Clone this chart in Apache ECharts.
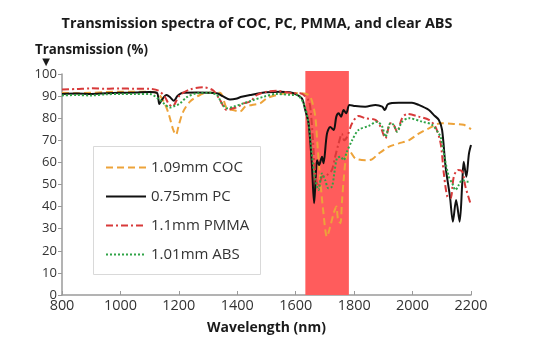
<!DOCTYPE html>
<html><head><meta charset="utf-8">
<script src="https://cdn.jsdelivr.net/npm/echarts@6/dist/echarts.min.js"></script>
<style>html,body{margin:0;padding:0;background:#fff}#c{width:534px;height:354px}</style>
</head><body><div id="c"></div>
<script>
// ---- data ----
const titleText = 'Transmission spectra of COC, PC, PMMA, and clear ABS';
const yAxisTitle = 'Transmission (%)';
const xAxisTitle = 'Wavelength (nm)';
const seriesNames = ['1.09mm COC', '0.75mm PC', '1.1mm PMMA', '1.01mm ABS'];
const bandRange = [1633, 1782];
const bandTop = 101.4;

const cocX = [800,850,900,950,1000,1050,1100,1130,1150,1165,1180,1190,1200,1215,1238,1272,1300,1340,1364,1386,1409,1427,1450,1478,1501,1535,1570,1615,1644,1655,1667,1675,1684,1695,1707,1718,1730,1739,1745,1753,1758,1764,1773,1784,1804,1838,1861,1884,1918,1953,1987,2021,2056,2096,2141,2175,2200];
const cocY = [91.5,91.3,91.5,91.8,92,92,92,91,87,82,75,72.5,77,83,87.5,90.5,91.5,91.5,84.5,83.7,83,85.2,86,86.7,89,90.5,91.3,91.3,90.5,88,80.7,67,52,37,26.4,30.9,37,40,34,32.5,41.6,52,62.6,65,61.8,61,61.4,64,67,68.6,70,73,75.4,77.7,77.4,77,75];

const pcX = [800,850,900,950,1000,1050,1100,1125,1133,1140,1158,1170,1183,1195,1214,1260,1300,1330,1350,1375,1395,1415,1444,1501,1547,1580,1598,1621,1632,1644,1655,1663,1668,1673,1680,1690,1695,1707,1718,1730,1739,1747,1755,1764,1773,1784,1804,1838,1873,1896,1905,1916,1953,1998,2021,2056,2073,2090,2101,2113,2128,2138,2149,2161,2170,2175,2184,2193,2200];
const pcY = [91,91.2,91,91.3,91.5,91.6,91.8,91.5,86.4,88,90.5,89.5,87.9,90,91.5,91.6,91.5,91.3,90,88.5,88.8,89.7,90.5,91.7,92,91.7,91,89,84,77.7,59.7,41.5,52,61,58.8,62.6,59.6,73,76,74.7,80.7,82.2,80.7,83.7,82.2,86,85.5,85.2,86,85.2,83.7,86.4,87,87,86,83.7,81.4,79.2,74.7,58,44.5,33.2,43,33.2,50.5,60.3,53.5,64,67.9];

const pmmaX = [800,850,900,950,1000,1050,1100,1130,1152,1165,1179,1190,1204,1238,1284,1318,1341,1364,1385,1400,1421,1444,1467,1501,1535,1592,1615,1644,1652,1659,1667,1678,1690,1707,1724,1735,1747,1758,1766,1776,1793,1815,1838,1873,1890,1907,1924,1935,1947,1964,1981,2021,2056,2078,2096,2107,2119,2130,2141,2155,2170,2181,2198];
const pmmaY = [93,93.2,93.5,93.3,93.5,93.3,93.3,92.5,89.7,86.5,85.2,87.5,90.5,93,94,92.5,88.2,83.7,84.5,85,86.7,87.5,90.5,92,92.4,91.3,91.3,88,82.2,70,55,49,53.5,54.3,56.6,62.6,68.6,73,70,71.6,77.7,81,80,79.2,76.2,70.9,77.7,77,73.9,80,81.9,80.7,79.2,76.2,68.6,55,44.5,43.8,53.5,56.6,55.8,49,41.5];

const absX = [800,850,900,950,1000,1050,1100,1135,1150,1169,1185,1204,1227,1261,1300,1330,1347,1364,1387,1421,1455,1490,1535,1592,1604,1627,1644,1655,1667,1678,1690,1701,1712,1724,1732,1741,1753,1764,1775,1793,1815,1850,1878,1896,1907,1924,1935,1947,1964,1987,2033,2067,2090,2096,2109,2124,2136,2147,2158,2170,2187,2198];
const absY = [90.3,90.5,90.3,90.8,91,91,91,88.2,86.5,84.8,85.5,86.7,89.5,91.3,91.5,90.5,86.7,84.5,85.2,86.7,88.2,89.7,91,90.5,90.5,86.7,77.7,64,52,47.5,55,52,48.3,49,55,61.8,62.6,61,64.8,70,74.7,76.5,78.4,76.2,71.6,77.7,77,73.9,78.4,80,78.4,77,73,71.6,62.6,53.5,50.5,47.5,49.8,52,51.3,51.3];

const xTicks = {min: 800, max: 2200, interval: 200};
const yTicks = {min: 0, max: 100, interval: 10};

function pairs(xs, ys){ return xs.map((x,i)=>[x, ys[i]]); }

const FONT = '"Open Sans", Lato, sans-serif';
const mctx = document.createElement('canvas').getContext('2d');
function fit(text, weight, target){
  mctx.font = weight + ' 100px ' + FONT;
  return +(100 * target / mctx.measureText(text).width).toFixed(2);
}
const titleSize = fit(titleText, 'bold', 391);
const yTitleSize = fit(yAxisTitle, 'bold', 113);
const xTitleSize = fit(xAxisTitle, 'bold', 119);
const legendSize = +((fit(seriesNames[0], 'normal', 93) + fit(seriesNames[2], 'normal', 97)) / 2).toFixed(2);
const xLabSize = fit('1000', 'normal', 33);
const yLabSize = fit('100', 'normal', 22.4);

const chart = echarts.init(document.getElementById('c'), null, {renderer:'canvas'});

const lineDefs = [
  {name: seriesNames[0], data: pairs(cocX, cocY), color: '#eda33a', type: [7,4], width: 2},
  {name: seriesNames[1], data: pairs(pcX, pcY), color: '#111111', type: 'solid', width: 2},
  {name: seriesNames[2], data: pairs(pmmaX, pmmaY), color: '#d83a3a', type: [7,3,2,3], width: 2},
  {name: seriesNames[3], data: pairs(absX, absY), color: '#2fa347', type: [2,2], width: 2}
];

const series = [{
  type: 'custom',
  name: 'band',
  silent: true,
  z: 1,
  data: [[bandRange[0], bandRange[1], bandTop]],
  renderItem: function(params, api){
    const p0 = api.coord([api.value(0), 0]);
    const p1 = api.coord([api.value(1), api.value(2)]);
    return {type:'rect', shape:{x:p0[0], y:p1[1], width:p1[0]-p0[0], height:p0[1]-p1[1]}, style:{fill:'#ff5c5c'}};
  }
}].concat(lineDefs.map(d => ({
  type: 'line', name: d.name, data: d.data, showSymbol: false, symbol: 'none', smooth: 0.3,
  z: 3, animation: false,
  lineStyle: {color: d.color, type: d.type, width: d.width},
  itemStyle: {color: d.color}
})));

chart.setOption({
  animation: false,
  backgroundColor: '#fff',
  grid: {left: 62, right: 63, top: 74, bottom: 59, containLabel: false},
  xAxis: {
    type: 'value', min: xTicks.min, max: xTicks.max, interval: xTicks.interval,
    name: xAxisTitle, nameLocation: 'middle', nameGap: 26,
    nameTextStyle: {fontWeight: 'bold', fontSize: xTitleSize, fontFamily: FONT, color: '#1a1a1a'},
    axisLine: {show: true, lineStyle: {color: '#9a9a9a', width: 1.5}},
    axisTick: {show: true, inside: true, length: 4, lineStyle: {color: '#9a9a9a'}},
    axisLabel: {color: '#333', fontSize: xLabSize, fontFamily: FONT, margin: 4, formatter: v => String(v)},
    splitLine: {show: false}
  },
  yAxis: {
    type: 'value', min: yTicks.min, max: yTicks.max, interval: yTicks.interval,
    axisLine: {show: true, lineStyle: {color: '#9a9a9a', width: 1.5}},
    axisTick: {show: true, inside: false, length: 4, lineStyle: {color: '#9a9a9a'}},
    axisLabel: {color: '#333', fontSize: yLabSize, fontFamily: FONT, margin: 5},
    splitLine: {show: false}
  },
  legend: {
    data: seriesNames,
    orient: 'vertical', left: 93, top: 146,
    padding: [14, 13, 12, 12],
    itemWidth: 40, itemHeight: 14, itemGap: 14,
    itemStyle: {opacity: 0},
    textStyle: {color: '#333', fontSize: legendSize, fontFamily: FONT},
    z: 10
  },
  graphic: [
    {type:'rect', shape:{x: 93.5, y: 146.5, width: 167, height: 128}, style:{fill:'#fff', stroke:'#d9d9d9', lineWidth: 1}, z: 5},
    {type:'text', x: 257, y: 24, style:{text: titleText, font: 'bold ' + titleSize + 'px ' + FONT, fill:'#1a1a1a', align:'center', verticalAlign:'middle'}, z: 20},
    {type:'text', x: 35, y: 50, style:{text: yAxisTitle, font: 'bold ' + yTitleSize + 'px ' + FONT, fill:'#1a1a1a', verticalAlign:'middle'}, z: 20},
    {type:'text', x: 46, y: 62, style:{text: '▼', font: '10px DejaVu Sans', fill:'#1a1a1a', align:'center', verticalAlign:'middle'}, z: 20}
  ],
  series: series
});
</script></body></html>
